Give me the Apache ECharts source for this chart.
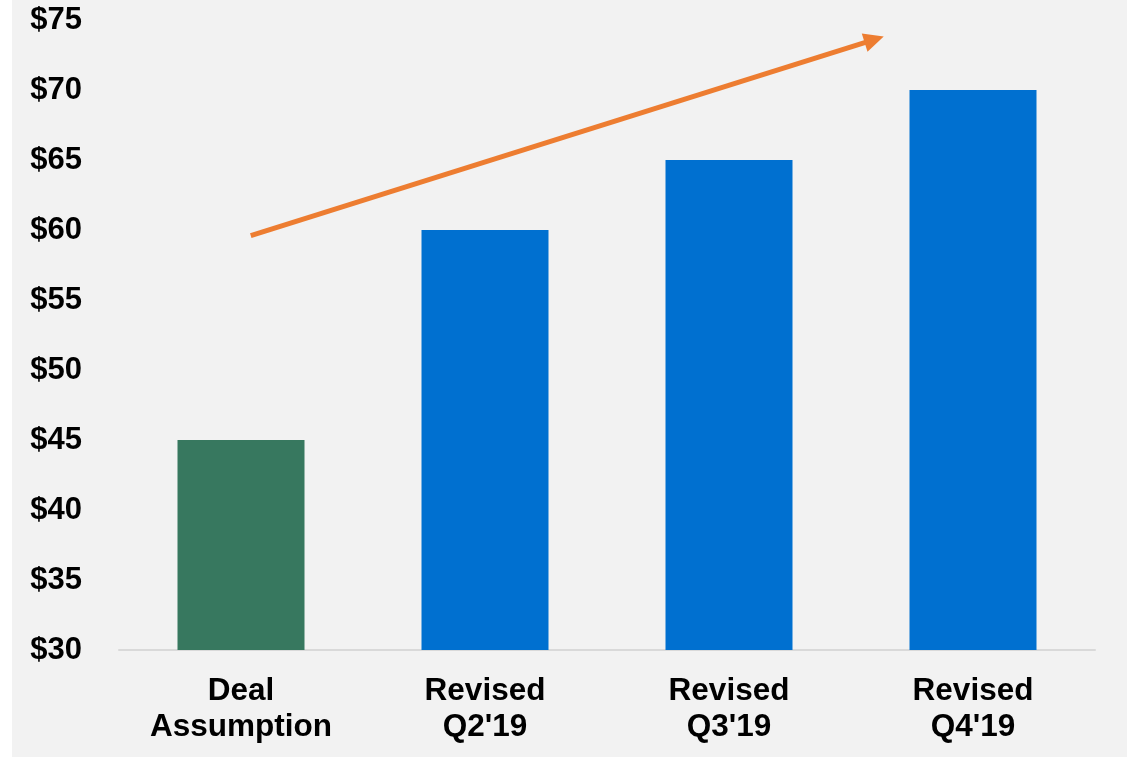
<!DOCTYPE html>
<html>
<head>
<meta charset="utf-8">
<script src="https://cdn.jsdelivr.net/npm/echarts@6/dist/echarts.min.js"></script>
<style>
html,body{margin:0;padding:0;background:#ffffff;}
#chart{position:absolute;left:12px;top:0;width:1115px;height:757px;background:#f2f2f2;}
</style>
</head>
<body>
<div id="chart"></div>
<script>
const categories = ["Deal\nAssumption", "Revised\nQ2'19", "Revised\nQ3'19", "Revised\nQ4'19"];
const values = [45, 60, 65, 70];
const barColors = ["#37785f", "#0070d0", "#0070d0", "#0070d0"];
const yTicks = { min: 30, max: 75, interval: 5 };
const arrowStart = [0.04, 59.6];
const arrowEnd = [2.595, 73.6];

const chart = echarts.init(document.getElementById('chart'));
chart.setOption({
  backgroundColor: '#f2f2f2',
  animation: false,
  grid: { left: 107, right: 32, top: 20, bottom: 107, containLabel: false },
  xAxis: [
    {
      type: 'category',
      data: categories,
      axisLine: { show: true, lineStyle: { color: '#d9d9d9', width: 2 } },
      axisTick: { show: false },
      axisLabel: {
        color: '#000', fontFamily: 'Liberation Sans, Arial, sans-serif',
        fontWeight: 'bold', fontSize: 31.5, lineHeight: 36, margin: 23
      }
    },
    { type: 'value', min: -0.5, max: 3.5, show: false }
  ],
  yAxis: {
    type: 'value', min: yTicks.min, max: yTicks.max, interval: yTicks.interval,
    splitLine: { show: false },
    axisLine: { show: false }, axisTick: { show: false },
    axisLabel: {
      color: '#000', fontFamily: 'Liberation Sans, Arial, sans-serif',
      fontWeight: 'bold', fontSize: 31, margin: 37,
      formatter: v => '$' + v
    }
  },
  series: [
    {
      type: 'bar', xAxisIndex: 0, barWidth: 127,
      data: values.map((v, i) => ({ value: v, itemStyle: { color: barColors[i] } })),
      silent: true
    },
    {
      type: 'line', xAxisIndex: 1, data: [], silent: true,
      markLine: {
        silent: true, animation: false,
        symbol: ['none', 'triangle'], symbolSize: [19, 20],
        label: { show: false },
        lineStyle: { color: '#ed7d31', width: 5, type: 'solid' },
        data: [[{ coord: arrowStart }, { coord: arrowEnd }]]
      }
    }
  ]
});
</script>
</body>
</html>
